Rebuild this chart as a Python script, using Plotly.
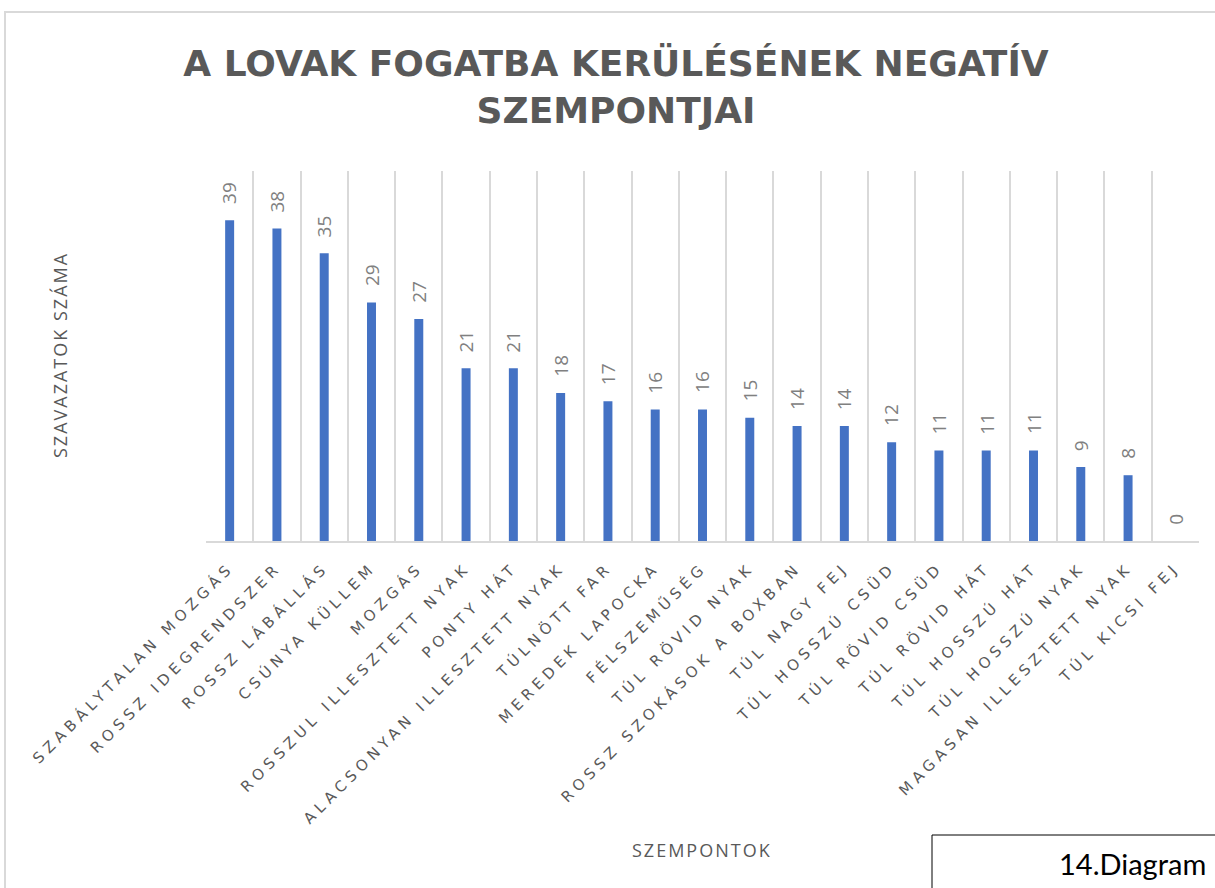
import plotly.graph_objects as go

categories = [
    "SZABÁLYTALAN MOZGÁS", "ROSSZ IDEGRENDSZER", "ROSSZ LÁBÁLLÁS", "CSÚNYA KÜLLEM",
    "MOZGÁS", "ROSSZUL ILLESZTETT NYAK", "PONTY HÁT", "ALACSONYAN ILLESZTETT NYAK",
    "TÚLNÖTT FAR", "MEREDEK LAPOCKA", "FÉLSZEMŰSÉG", "TÚL RÖVID NYAK",
    "ROSSZ SZOKÁSOK A BOXBAN", "TÚL NAGY FEJ", "TÚL HOSSZÚ CSÜD", "TÚL RÖVID CSÜD",
    "TÚL RÖVID HÁT", "TÚL HOSSZÚ HÁT", "TÚL HOSSZÚ NYAK", "MAGASAN ILLESZTETT NYAK",
    "TÚL KICSI FEJ",
]
votes = [39, 38, 35, 29, 27, 21, 21, 18, 17, 16, 16, 15, 14, 14, 12, 11, 11, 11, 9, 8, 0]

title_text = "A LOVAK FOGATBA KERÜLÉSÉNEK NEGATÍV<br>SZEMPONTJAI"
x_title = "SZEMPONTOK"
y_title = "SZAVAZATOK SZÁMA"
note_text = "14.Diagram"

W, H = 1215, 888
L, R, T, B = 206, 16, 171, 347
pw, ph = W - L - R, H - T - B


def px(xp):
    return (xp - L) / pw


def py(yp):
    return (H - B - yp) / ph


fig = go.Figure()
fig.add_trace(go.Bar(
    x=categories, y=votes,
    marker=dict(color="#4472C4", line=dict(width=0)),
    width=0.19,
    hoverinfo="x+y",
))

# data labels (rotated, above each bar)
for c, v in zip(categories, votes):
    fig.add_annotation(x=c, y=v, xref="x", yref="y", text=str(v),
                       textangle=-90, showarrow=False,
                       xanchor="center", yanchor="bottom", yshift=14,
                       font=dict(family="Open Sans", size=19, color="#808080"))

fig.update_layout(
    width=W, height=H,
    margin=dict(l=L, r=R, t=T, b=B),
    paper_bgcolor="white", plot_bgcolor="white",
    showlegend=False,
    title=dict(
        text=title_text, x=616 / W, xref="container", xanchor="center",
        y=1 - 76 / H, yref="container", yanchor="middle",
        font=dict(family="DejaVu Sans", size=36, color="#595959", weight="bold"),
    ),
    xaxis=dict(
        type="category", tickson="boundaries", showgrid=True,
        gridcolor="#D9D9D9", gridwidth=1.5,
        showline=True, linecolor="#D9D9D9", linewidth=1.5,
        ticks="", tickangle=-45, ticklabelstandoff=10,
        tickfont=dict(family="DejaVu Sans", size=15, color="#595959"),
        range=[-0.5, len(categories) - 0.5],
    ),
    yaxis=dict(range=[0, 45], showgrid=False, showticklabels=False,
               zeroline=False, showline=False, ticks=""),
    bargap=0.8,
)

# Axis titles
fig.add_annotation(text=y_title, xref="paper", yref="paper",
                   x=px(60), y=py(355), xanchor="center", yanchor="middle",
                   textangle=-90, showarrow=False,
                   font=dict(family="Open Sans", size=18, color="#595959"))
fig.add_annotation(text=x_title, xref="paper", yref="paper",
                   x=px(702), y=py(850), xanchor="center", yanchor="middle",
                   showarrow=False,
                   font=dict(family="Open Sans", size=18, color="#595959"))

# Outer chart border
fig.add_shape(type="rect", xref="paper", yref="paper",
              x0=px(5), x1=px(1230), y0=py(900), y1=py(12),
              line=dict(color="#D9D9D9", width=2), layer="below")

# Note box
fig.add_shape(type="rect", xref="paper", yref="paper",
              x0=px(932), x1=px(1230), y0=py(900), y1=py(835),
              line=dict(color="black", width=1), fillcolor="white")
fig.add_annotation(text=note_text, xref="paper", yref="paper",
                   x=px(1208), y=py(863), xanchor="right", yanchor="middle",
                   showarrow=False,
                   font=dict(family="Lato", size=29, color="black"))

post = """
document.body.style.margin='0';document.body.style.overflow='hidden';
var gd = document.getElementById('{plot_id}');
function spacing(){
  gd.querySelectorAll('.xtick text').forEach(function(t){ t.style.letterSpacing='4.8px'; });
  gd.querySelectorAll('.annotation-text').forEach(function(t){
    if (t.textContent === 'SZEMPONTOK' || t.textContent === 'SZAVAZATOK SZÁMA') {
      t.style.letterSpacing = '2px';
    }
  });
}
spacing();
gd.on('plotly_afterplot', spacing);
"""

fig.write_html("out.html", post_script=post, config={"displayModeBar": False})
